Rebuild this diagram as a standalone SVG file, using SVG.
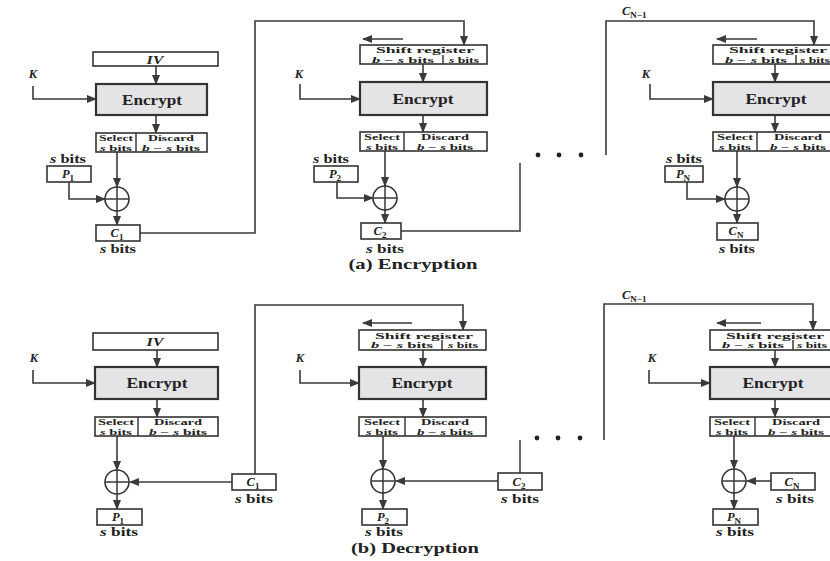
<svg xmlns="http://www.w3.org/2000/svg" width="830" height="561" viewBox="0 0 830 561">
<style>
  .bg{fill:#ffffff}
  .box{fill:#ffffff;stroke:#333;stroke-width:1.6}
  .enc{fill:#e4e4e6;stroke:#333;stroke-width:2.2}
  .ln{fill:none;stroke:#3a3a3a;stroke-width:1.5}
  .ar{fill:none;stroke:#3a3a3a;stroke-width:1.6;marker-end:url(#ah)}
  .xor{fill:#ffffff;stroke:#333;stroke-width:1.6}
  .t{font-family:"Liberation Serif","Times New Roman",serif;font-weight:bold;fill:#222;text-anchor:middle}
  .big{font-size:14px}
  .sm{font-size:8.5px}
  .lbl{font-size:12.5px}
  .cap{font-size:14.5px}
  .it{font-style:italic}
  .sub{font-style:normal;font-size:9px}
  .dot{fill:#222}
</style>
<defs>
  <marker id="ah" markerUnits="userSpaceOnUse" markerWidth="10" markerHeight="8" refX="9" refY="4" orient="auto">
    <path d="M0,0 L10,4 L0,8 Z" fill="#3a3a3a"/>
  </marker>
</defs>
<rect class="bg" x="0" y="0" width="830" height="561"/>

<!-- ================= (a) Encryption ================= -->
<g id="connectors-a">
  <line class="ar" x1="156" y1="66" x2="156" y2="84"/>
  <path class="ar" d="M33,86 V99 H96"/>
  <line class="ar" x1="156" y1="115" x2="156" y2="133"/>
  <line class="ar" x1="117" y1="152" x2="117" y2="187"/>
  <path class="ar" d="M69,182 V199 H105"/>
  <line class="ar" x1="117" y1="211" x2="117" y2="225"/>
  <path class="ar" d="M140,233 H255 V21 H464 V45"/>

  <line class="ar" x1="403" y1="39" x2="363" y2="39"/>
  <line class="ar" x1="423" y1="64" x2="423" y2="82"/>
  <path class="ar" d="M300,84 V99 H360"/>
  <line class="ar" x1="423" y1="115" x2="423" y2="132"/>
  <line class="ar" x1="385" y1="151" x2="385" y2="186"/>
  <path class="ar" d="M337,182 V198 H373"/>
  <line class="ar" x1="385" y1="210" x2="385" y2="223"/>
  <path class="ln" d="M401,231 H520 V163"/>

  <path class="ar" d="M606,155 V21 H814 V45"/>
  <line class="ar" x1="757" y1="39" x2="717" y2="39"/>
  <line class="ar" x1="775" y1="64" x2="775" y2="82"/>
  <path class="ar" d="M650,84 V99 H713"/>
  <line class="ar" x1="775" y1="115" x2="775" y2="132"/>
  <line class="ar" x1="737" y1="151" x2="737" y2="187"/>
  <path class="ar" d="M687,182 V199 H725"/>
  <line class="ar" x1="737" y1="211" x2="737" y2="223"/>
</g>

<g id="dots-a">
  <circle class="dot" cx="538" cy="155" r="2.4"/>
  <circle class="dot" cx="559" cy="155" r="2.4"/>
  <circle class="dot" cx="581" cy="155" r="2.4"/>
</g>

<g id="a-iv">
  <rect class="box" x="93" y="52" width="125" height="14"/>
  <text class="t lbl it" x="155" y="63.5" textLength="17" lengthAdjust="spacingAndGlyphs">IV</text>
</g>
<g id="a-k1"><text class="t lbl it" x="33" y="78">K</text></g>
<g id="a-enc1">
  <rect class="enc" x="96" y="84" width="111" height="31"/>
  <text class="t big" x="152" y="104.5" textLength="60" lengthAdjust="spacingAndGlyphs">Encrypt</text>
</g>
<g id="a-sel1">
  <rect class="box" x="96" y="133" width="111" height="19"/>
  <line class="ln" x1="136" y1="133" x2="136" y2="152"/>
  <text class="t sm" x="116" y="141" textLength="34" lengthAdjust="spacingAndGlyphs">Select</text>
  <text class="t sm" x="116" y="150.5" textLength="32" lengthAdjust="spacingAndGlyphs"><tspan class="it">s</tspan> bits</text>
  <text class="t sm" x="171" y="141" textLength="46" lengthAdjust="spacingAndGlyphs">Discard</text>
  <text class="t sm" x="171" y="150.5" textLength="58" lengthAdjust="spacingAndGlyphs"><tspan class="it">b</tspan> − <tspan class="it">s</tspan> bits</text>
</g>
<g id="a-xor1">
  <circle class="xor" cx="117" cy="199" r="12"/>
  <path class="ln" d="M105,199 H129 M117,187 V211"/>
</g>
<g id="a-p1">
  <text class="t lbl" x="68" y="163" textLength="36" lengthAdjust="spacingAndGlyphs"><tspan class="it">s</tspan> bits</text>
  <rect class="box" x="47" y="166" width="44" height="16"/>
  <text class="t lbl it" x="68" y="178">P<tspan class="sub" dy="3">1</tspan></text>
</g>
<g id="a-c1">
  <rect class="box" x="96" y="225" width="44" height="16"/>
  <text class="t lbl it" x="117" y="237">C<tspan class="sub" dy="3">1</tspan></text>
  <text class="t lbl" x="118" y="253" textLength="36" lengthAdjust="spacingAndGlyphs"><tspan class="it">s</tspan> bits</text>
</g>

<g id="a-k2"><text class="t lbl it" x="299" y="78">K</text></g>
<g id="a-sr2">
  <rect class="box" x="360" y="45" width="127" height="19"/>
  <line class="ln" x1="443" y1="55" x2="443" y2="64"/>
  <text class="t sm" x="425" y="53" textLength="98" lengthAdjust="spacingAndGlyphs">Shift register</text>
  <text class="t sm" x="403" y="62.5" textLength="62" lengthAdjust="spacingAndGlyphs"><tspan class="it">b</tspan> − <tspan class="it">s</tspan> bits</text>
  <text class="t sm" x="464" y="62.5" textLength="30" lengthAdjust="spacingAndGlyphs"><tspan class="it">s</tspan> bits</text>
</g>
<g id="a-enc2">
  <rect class="enc" x="360" y="82" width="127" height="33"/>
  <text class="t big" x="423" y="103.5" textLength="61" lengthAdjust="spacingAndGlyphs">Encrypt</text>
</g>
<g id="a-sel2">
  <rect class="box" x="360" y="132" width="127" height="19"/>
  <line class="ln" x1="404" y1="132" x2="404" y2="151"/>
  <text class="t sm" x="382" y="140" textLength="36" lengthAdjust="spacingAndGlyphs">Select</text>
  <text class="t sm" x="382" y="149.5" textLength="32" lengthAdjust="spacingAndGlyphs"><tspan class="it">s</tspan> bits</text>
  <text class="t sm" x="445" y="140" textLength="48" lengthAdjust="spacingAndGlyphs">Discard</text>
  <text class="t sm" x="445" y="149.5" textLength="56" lengthAdjust="spacingAndGlyphs"><tspan class="it">b</tspan> − <tspan class="it">s</tspan> bits</text>
</g>
<g id="a-xor2">
  <circle class="xor" cx="385" cy="198" r="12"/>
  <path class="ln" d="M373,198 H397 M385,186 V210"/>
</g>
<g id="a-p2">
  <text class="t lbl" x="331" y="163" textLength="36" lengthAdjust="spacingAndGlyphs"><tspan class="it">s</tspan> bits</text>
  <rect class="box" x="314" y="166" width="44" height="16"/>
  <text class="t lbl it" x="335" y="178">P<tspan class="sub" dy="3">2</tspan></text>
</g>
<g id="a-c2">
  <rect class="box" x="361" y="223" width="40" height="16"/>
  <text class="t lbl it" x="380" y="235">C<tspan class="sub" dy="3">2</tspan></text>
  <text class="t lbl" x="385" y="253" textLength="38" lengthAdjust="spacingAndGlyphs"><tspan class="it">s</tspan> bits</text>
</g>

<g id="a-cn1"><text class="t lbl it" x="622" y="15" style="text-anchor:start">C<tspan class="sub" dy="3">N−1</tspan></text></g>
<g id="a-k3"><text class="t lbl it" x="646" y="78">K</text></g>
<g id="a-sr3">
  <rect class="box" x="713" y="45" width="127" height="19"/>
  <line class="ln" x1="796" y1="55" x2="796" y2="64"/>
  <text class="t sm" x="778" y="53" textLength="98" lengthAdjust="spacingAndGlyphs">Shift register</text>
  <text class="t sm" x="756" y="62.5" textLength="62" lengthAdjust="spacingAndGlyphs"><tspan class="it">b</tspan> − <tspan class="it">s</tspan> bits</text>
  <text class="t sm" x="815" y="62.5" textLength="30" lengthAdjust="spacingAndGlyphs"><tspan class="it">s</tspan> bits</text>
</g>
<g id="a-enc3">
  <rect class="enc" x="713" y="82" width="127" height="33"/>
  <text class="t big" x="776" y="103.5" textLength="61" lengthAdjust="spacingAndGlyphs">Encrypt</text>
</g>
<g id="a-sel3">
  <rect class="box" x="713" y="132" width="127" height="19"/>
  <line class="ln" x1="757" y1="132" x2="757" y2="151"/>
  <text class="t sm" x="735" y="140" textLength="36" lengthAdjust="spacingAndGlyphs">Select</text>
  <text class="t sm" x="735" y="149.5" textLength="32" lengthAdjust="spacingAndGlyphs"><tspan class="it">s</tspan> bits</text>
  <text class="t sm" x="798" y="140" textLength="48" lengthAdjust="spacingAndGlyphs">Discard</text>
  <text class="t sm" x="798" y="149.5" textLength="56" lengthAdjust="spacingAndGlyphs"><tspan class="it">b</tspan> − <tspan class="it">s</tspan> bits</text>
</g>
<g id="a-xor3">
  <circle class="xor" cx="737" cy="199" r="12"/>
  <path class="ln" d="M725,199 H749 M737,187 V211"/>
</g>
<g id="a-pn">
  <text class="t lbl" x="684" y="163" textLength="36" lengthAdjust="spacingAndGlyphs"><tspan class="it">s</tspan> bits</text>
  <rect class="box" x="665" y="166" width="38" height="16"/>
  <text class="t lbl it" x="683" y="178">P<tspan class="sub" dy="3">N</tspan></text>
</g>
<g id="a-cn">
  <rect class="box" x="717" y="223" width="41" height="17"/>
  <text class="t lbl it" x="736" y="235">C<tspan class="sub" dy="3">N</tspan></text>
  <text class="t lbl" x="737" y="253" textLength="36" lengthAdjust="spacingAndGlyphs"><tspan class="it">s</tspan> bits</text>
</g>
<g id="cap-a"><text class="t cap" x="413" y="269" textLength="129" lengthAdjust="spacingAndGlyphs">(a) Encryption</text></g>

<!-- ================= (b) Decryption ================= -->
<g id="connectors-b">
  <line class="ar" x1="157" y1="350" x2="157" y2="367"/>
  <path class="ar" d="M33,370 V383 H95"/>
  <line class="ar" x1="157" y1="399" x2="157" y2="417"/>
  <line class="ar" x1="117" y1="436" x2="117" y2="470"/>
  <path class="ar" d="M232,482 H130"/>
  <path class="ar" d="M255,474 V305 H463 V330"/>
  <line class="ar" x1="117" y1="494" x2="117" y2="509"/>

  <line class="ar" x1="412" y1="323" x2="363" y2="323"/>
  <line class="ar" x1="423" y1="350" x2="423" y2="367"/>
  <path class="ar" d="M300,370 V383 H359"/>
  <line class="ar" x1="423" y1="399" x2="423" y2="417"/>
  <line class="ar" x1="383" y1="436" x2="383" y2="469"/>
  <path class="ar" d="M498,481 H396"/>
  <line class="ln" x1="520" y1="473" x2="520" y2="440"/>
  <line class="ar" x1="383" y1="493" x2="383" y2="509"/>

  <path class="ar" d="M604,440 V304 H813 V330"/>
  <line class="ar" x1="761" y1="323" x2="717" y2="323"/>
  <line class="ar" x1="775" y1="350" x2="775" y2="367"/>
  <path class="ar" d="M649,370 V383 H710"/>
  <line class="ar" x1="775" y1="399" x2="775" y2="417"/>
  <line class="ar" x1="734" y1="436" x2="734" y2="469"/>
  <path class="ar" d="M771,481 H747"/>
  <line class="ar" x1="734" y1="493" x2="734" y2="509"/>
</g>

<g id="dots-b">
  <circle class="dot" cx="537" cy="438" r="2.4"/>
  <circle class="dot" cx="558" cy="438" r="2.4"/>
  <circle class="dot" cx="580" cy="438" r="2.4"/>
</g>

<g id="b-iv">
  <rect class="box" x="93" y="333" width="125" height="17"/>
  <text class="t lbl it" x="155" y="346" textLength="17" lengthAdjust="spacingAndGlyphs">IV</text>
</g>
<g id="b-k1"><text class="t lbl it" x="34" y="362">K</text></g>
<g id="b-enc1">
  <rect class="enc" x="95" y="367" width="123" height="32"/>
  <text class="t big" x="157" y="388" textLength="61" lengthAdjust="spacingAndGlyphs">Encrypt</text>
</g>
<g id="b-sel1">
  <rect class="box" x="95" y="417" width="123" height="19"/>
  <line class="ln" x1="138" y1="417" x2="138" y2="436"/>
  <text class="t sm" x="116" y="425" textLength="36" lengthAdjust="spacingAndGlyphs">Select</text>
  <text class="t sm" x="116" y="434.5" textLength="32" lengthAdjust="spacingAndGlyphs"><tspan class="it">s</tspan> bits</text>
  <text class="t sm" x="178" y="425" textLength="48" lengthAdjust="spacingAndGlyphs">Discard</text>
  <text class="t sm" x="178" y="434.5" textLength="58" lengthAdjust="spacingAndGlyphs"><tspan class="it">b</tspan> − <tspan class="it">s</tspan> bits</text>
</g>
<g id="b-xor1">
  <circle class="xor" cx="117" cy="482" r="12"/>
  <path class="ln" d="M105,482 H129 M117,470 V494"/>
</g>
<g id="b-c1">
  <rect class="box" x="232" y="474" width="44" height="16"/>
  <text class="t lbl it" x="253" y="486">C<tspan class="sub" dy="3">1</tspan></text>
  <text class="t lbl" x="254" y="503" textLength="38" lengthAdjust="spacingAndGlyphs"><tspan class="it">s</tspan> bits</text>
</g>
<g id="b-p1">
  <rect class="box" x="97" y="509" width="45" height="16"/>
  <text class="t lbl it" x="118" y="521">P<tspan class="sub" dy="3">1</tspan></text>
  <text class="t lbl" x="119" y="536" textLength="38" lengthAdjust="spacingAndGlyphs"><tspan class="it">s</tspan> bits</text>
</g>

<g id="b-k2"><text class="t lbl it" x="300" y="362">K</text></g>
<g id="b-sr2">
  <rect class="box" x="359" y="330" width="127" height="20"/>
  <line class="ln" x1="442" y1="340" x2="442" y2="350"/>
  <text class="t sm" x="424" y="338.5" textLength="98" lengthAdjust="spacingAndGlyphs">Shift register</text>
  <text class="t sm" x="402" y="348" textLength="62" lengthAdjust="spacingAndGlyphs"><tspan class="it">b</tspan> − <tspan class="it">s</tspan> bits</text>
  <text class="t sm" x="463" y="348" textLength="30" lengthAdjust="spacingAndGlyphs"><tspan class="it">s</tspan> bits</text>
</g>
<g id="b-enc2">
  <rect class="enc" x="359" y="367" width="127" height="32"/>
  <text class="t big" x="422" y="388" textLength="61" lengthAdjust="spacingAndGlyphs">Encrypt</text>
</g>
<g id="b-sel2">
  <rect class="box" x="359" y="417" width="127" height="19"/>
  <line class="ln" x1="405" y1="417" x2="405" y2="436"/>
  <text class="t sm" x="382" y="425" textLength="36" lengthAdjust="spacingAndGlyphs">Select</text>
  <text class="t sm" x="382" y="434.5" textLength="32" lengthAdjust="spacingAndGlyphs"><tspan class="it">s</tspan> bits</text>
  <text class="t sm" x="445" y="425" textLength="48" lengthAdjust="spacingAndGlyphs">Discard</text>
  <text class="t sm" x="445" y="434.5" textLength="56" lengthAdjust="spacingAndGlyphs"><tspan class="it">b</tspan> − <tspan class="it">s</tspan> bits</text>
</g>
<g id="b-xor2">
  <circle class="xor" cx="383" cy="481" r="12"/>
  <path class="ln" d="M371,481 H395 M383,469 V493"/>
</g>
<g id="b-c2">
  <rect class="box" x="498" y="473" width="44" height="17"/>
  <text class="t lbl it" x="519" y="486">C<tspan class="sub" dy="3">2</tspan></text>
  <text class="t lbl" x="520" y="503" textLength="38" lengthAdjust="spacingAndGlyphs"><tspan class="it">s</tspan> bits</text>
</g>
<g id="b-p2">
  <rect class="box" x="362" y="509" width="45" height="16"/>
  <text class="t lbl it" x="383" y="521">P<tspan class="sub" dy="3">2</tspan></text>
  <text class="t lbl" x="384" y="536" textLength="38" lengthAdjust="spacingAndGlyphs"><tspan class="it">s</tspan> bits</text>
</g>

<g id="b-cn1"><text class="t lbl it" x="622" y="299" style="text-anchor:start">C<tspan class="sub" dy="3">N−1</tspan></text></g>
<g id="b-k3"><text class="t lbl it" x="652" y="362">K</text></g>
<g id="b-sr3">
  <rect class="box" x="710" y="330" width="127" height="20"/>
  <line class="ln" x1="793" y1="340" x2="793" y2="350"/>
  <text class="t sm" x="775" y="338.5" textLength="98" lengthAdjust="spacingAndGlyphs">Shift register</text>
  <text class="t sm" x="753" y="348" textLength="62" lengthAdjust="spacingAndGlyphs"><tspan class="it">b</tspan> − <tspan class="it">s</tspan> bits</text>
  <text class="t sm" x="812" y="348" textLength="30" lengthAdjust="spacingAndGlyphs"><tspan class="it">s</tspan> bits</text>
</g>
<g id="b-enc3">
  <rect class="enc" x="710" y="367" width="127" height="32"/>
  <text class="t big" x="773" y="388" textLength="61" lengthAdjust="spacingAndGlyphs">Encrypt</text>
</g>
<g id="b-sel3">
  <rect class="box" x="710" y="417" width="127" height="19"/>
  <line class="ln" x1="755" y1="417" x2="755" y2="436"/>
  <text class="t sm" x="732" y="425" textLength="36" lengthAdjust="spacingAndGlyphs">Select</text>
  <text class="t sm" x="732" y="434.5" textLength="32" lengthAdjust="spacingAndGlyphs"><tspan class="it">s</tspan> bits</text>
  <text class="t sm" x="796" y="425" textLength="48" lengthAdjust="spacingAndGlyphs">Discard</text>
  <text class="t sm" x="796" y="434.5" textLength="56" lengthAdjust="spacingAndGlyphs"><tspan class="it">b</tspan> − <tspan class="it">s</tspan> bits</text>
</g>
<g id="b-xor3">
  <circle class="xor" cx="734" cy="481" r="12"/>
  <path class="ln" d="M722,481 H746 M734,469 V493"/>
</g>
<g id="b-cn">
  <rect class="box" x="771" y="473" width="44" height="17"/>
  <text class="t lbl it" x="792" y="486">C<tspan class="sub" dy="3">N</tspan></text>
  <text class="t lbl" x="795" y="503" textLength="38" lengthAdjust="spacingAndGlyphs"><tspan class="it">s</tspan> bits</text>
</g>
<g id="b-pn">
  <rect class="box" x="713" y="509" width="45" height="16"/>
  <text class="t lbl it" x="734" y="521">P<tspan class="sub" dy="3">N</tspan></text>
  <text class="t lbl" x="735" y="536" textLength="38" lengthAdjust="spacingAndGlyphs"><tspan class="it">s</tspan> bits</text>
</g>
<g id="cap-b"><text class="t cap" x="415" y="553" textLength="128" lengthAdjust="spacingAndGlyphs">(b) Decryption</text></g>
</svg>
